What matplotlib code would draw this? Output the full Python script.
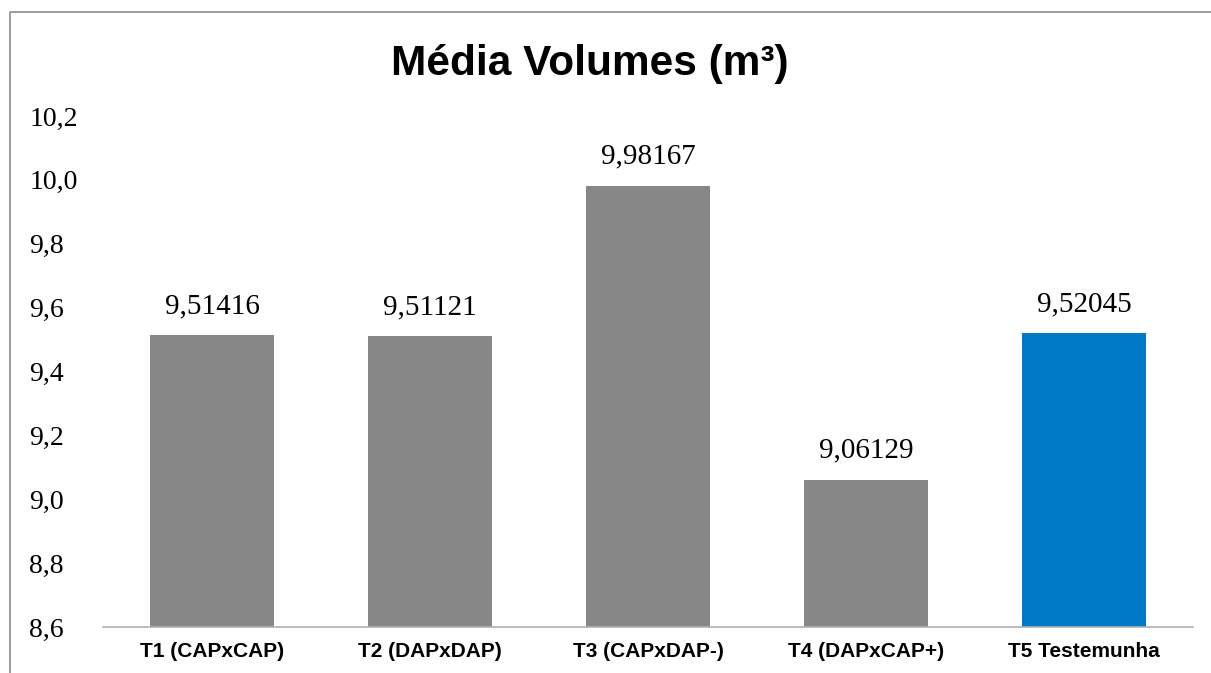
import matplotlib.pyplot as plt
from matplotlib.lines import Line2D

categories = ['T1 (CAPxCAP)', 'T2 (DAPxDAP)', 'T3 (CAPxDAP-)', 'T4 (DAPxCAP+)', 'T5 Testemunha']
values = [9.51416, 9.51121, 9.98167, 9.06129, 9.52045]
value_labels = ['9,51416', '9,51121', '9,98167', '9,06129', '9,52045']
y_ticks = [8.6, 8.8, 9.0, 9.2, 9.4, 9.6, 9.8, 10.0, 10.2]
y_tick_labels = ['8,6', '8,8', '9,0', '9,2', '9,4', '9,6', '9,8', '10,0', '10,2']
colors = ['#878787', '#878787', '#878787', '#878787', '#0079C7']

W, H = 1211, 673
fig = plt.figure(figsize=(W / 100, H / 100), dpi=100)
ax = fig.add_axes([103 / W, 1 - 627 / H, (1193 - 103) / W, (627 - 116) / H])

x = range(len(categories))
ax.bar(x, values, width=0.57, color=colors, bottom=0)
ax.set_ylim(8.6, 10.2)
ax.set_xlim(-0.5, len(categories) - 0.5)

for i, (v, lab) in enumerate(zip(values, value_labels)):
    ax.text(i, v + 0.05, lab, ha='center', va='bottom',
            fontsize=21, family='Liberation Serif')

ax.set_yticks(y_ticks)
ax.set_yticklabels(y_tick_labels, fontsize=20, family='Liberation Serif')
ax.set_xticks(list(x))
ax.set_xticklabels(categories, fontsize=15, family='Liberation Sans', fontweight='bold')
ax.tick_params(axis='y', length=0, pad=53)
ax.tick_params(axis='x', length=0, pad=11)
for lbl in ax.get_yticklabels():
    lbl.set_horizontalalignment('left')

for s in ['top', 'right', 'left']:
    ax.spines[s].set_visible(False)
ax.spines['bottom'].set_color('#b0b0b0')
ax.spines['bottom'].set_linewidth(1.2)

fig.text(590 / W, 1 - 64 / H, 'Média Volumes (m³)', ha='center', va='center',
         fontsize=30.5, fontweight='bold', family='Liberation Sans')

# outer chart frame (only left and top edges visible)
fig.add_artist(Line2D([10 / W, 10 / W, 1.0], [0.0, 1 - 12 / H, 1 - 12 / H],
                      transform=fig.transFigure, color='#8c8c8c', lw=1.2))

fig.savefig('out.png', dpi=100)
